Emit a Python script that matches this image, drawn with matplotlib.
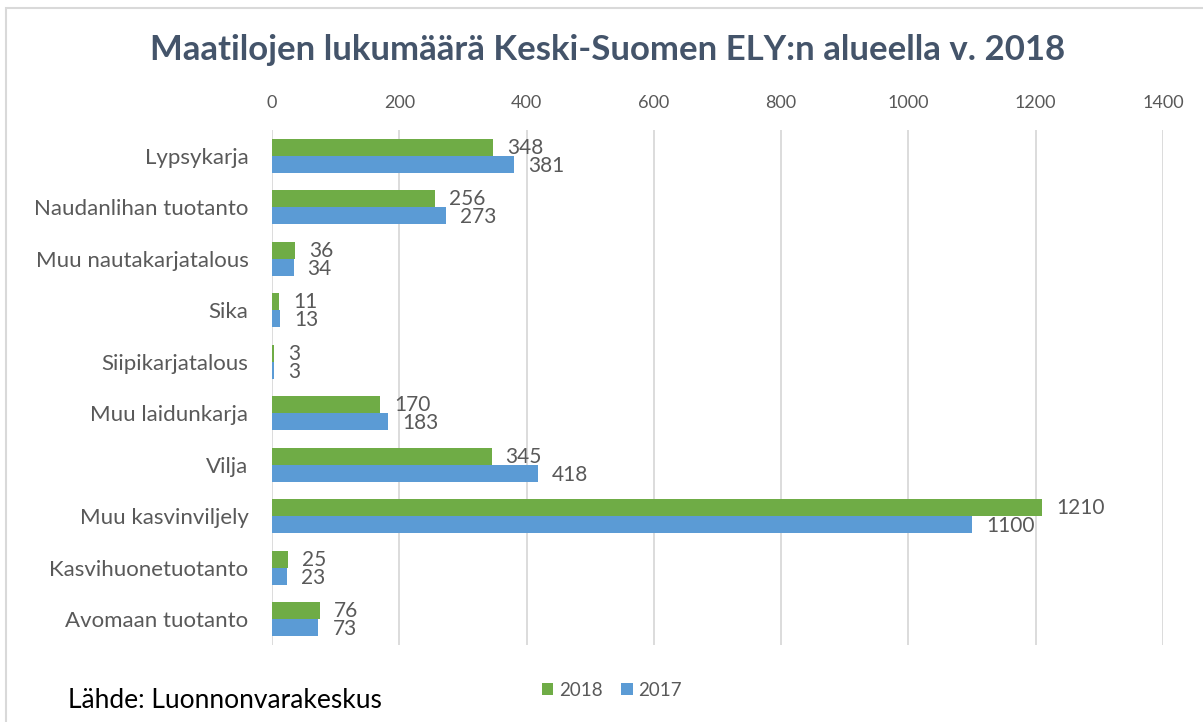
import matplotlib
matplotlib.use("Agg")
import matplotlib.pyplot as plt
import numpy as np
from matplotlib.patches import Rectangle

categories = ["Lypsykarja", "Naudanlihan tuotanto", "Muu nautakarjatalous", "Sika",
              "Siipikarjatalous", "Muu laidunkarja", "Vilja", "Muu kasvinviljely",
              "Kasvihuonetuotanto", "Avomaan tuotanto"]
v2018 = [348, 256, 36, 11, 3, 170, 345, 1210, 25, 76]
v2017 = [381, 273, 34, 13, 3, 183, 418, 1100, 23, 73]
xticks = [0, 200, 400, 600, 800, 1000, 1200, 1400]

plt.rcParams['font.family'] = ['Lato', 'DejaVu Sans']
W, H = 1203, 722
fig = plt.figure(figsize=(W/100, H/100), dpi=100)
ax = fig.add_axes([272/W, 1-645/H, (1163-272)/W, (645-130)/H])

green = "#6FAC46"
blue = "#5B9BD5"
txt = "#595959"
n = len(categories)
y = np.arange(n)
h = 0.33
ax.barh(y - h/2, v2018, height=h, color=green, label="2018")
ax.barh(y + h/2, v2017, height=h, color=blue, label="2017")
for yi, a, b in zip(y, v2018, v2017):
    ax.text(a + 22, yi - h/2 + 0.01, str(a), va='center', ha='left', fontsize=15, color=txt)
    ax.text(b + 22, yi + h/2 + 0.03, str(b), va='center', ha='left', fontsize=15, color=txt)

ax.set_xlim(0, 1400)
ax.set_ylim(n - 0.5, -0.5)
ax.set_yticks(y)
ax.set_yticklabels(categories, fontsize=16, color=txt)
ax.set_xticks(xticks)
ax.set_xticklabels([str(t) for t in xticks], fontsize=13, color=txt)
ax.xaxis.tick_top()
ax.tick_params(axis='both', length=0)
ax.tick_params(axis='x', pad=14)
ax.tick_params(axis='y', pad=17)
ax.grid(axis='x', color="#D9D9D9", linewidth=1.3)
ax.set_axisbelow(True)
for s in ax.spines.values():
    s.set_visible(False)

fig.text(608/W, 1-50/H, "Maatilojen lukumäärä Keski-Suomen ELY:n alueella v. 2018",
         ha='center', va='center', fontsize=25, fontweight='bold', color="#44546A")

leg = fig.legend(loc='center', bbox_to_anchor=(612/W, 1-690/H), ncol=2, frameon=False,
                 fontsize=13.5, handlelength=0.6, handleheight=0.6, handletextpad=0.3,
                 columnspacing=1.0, labelcolor=txt)

fig.text(68/W, 1-700/H, "Lähde: Luonnonvarakeskus", ha='left', va='center', fontsize=19, color='black')

fig.patches.append(Rectangle((6/W, -0.01), 1.02, 1 - 8/H + 0.01, transform=fig.transFigure,
                             fill=False, edgecolor="#D9D9D9", linewidth=1.5))

fig.savefig("out.png", dpi=100)
